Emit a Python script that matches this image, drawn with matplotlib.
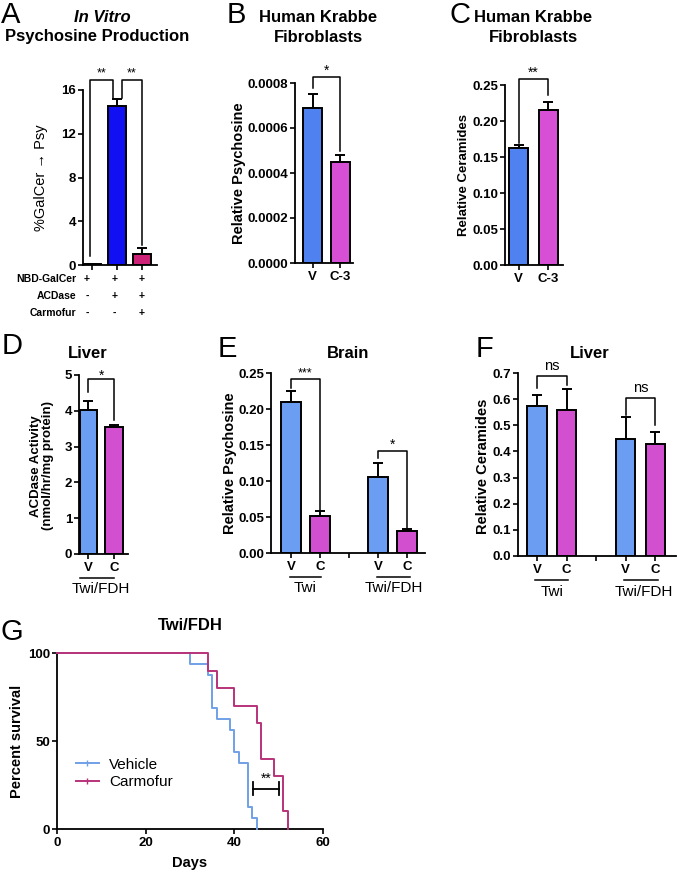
import matplotlib
matplotlib.use("Agg")
import matplotlib.pyplot as plt
import matplotlib.transforms as mtransforms
from matplotlib.lines import Line2D
import numpy as np

plt.rcParams['font.family'] = ['Liberation Sans', 'DejaVu Sans']

W, H = 677, 874

# ---- data ----
# A: in vitro psychosine production
a_vals = [0.05, 14.5, 1.0]
a_errs = [0.0, 0.7, 0.6]
a_rows = ["NBD-GalCer", "ACDase", "Carmofur"]
a_signs = [["+", "+", "+"], ["-", "+", "+"], ["-", "-", "+"]]

# B: relative psychosine, fibroblasts
b_labels = ["V", "C-3"]
b_vals = [0.00069, 0.00045]
b_errs = [0.00006, 0.00003]

# C: relative ceramides, fibroblasts
c_labels = ["V", "C-3"]
c_vals = [0.163, 0.215]
c_errs = [0.004, 0.012]

# D: liver ACDase activity
d_labels = ["V", "C"]
d_vals = [4.02, 3.55]
d_errs = [0.25, 0.06]

# E: brain relative psychosine (Twi, Twi/FDH)
e_labels = ["V", "C", "", "V", "C"]
e_vals = [0.210, 0.052, 0.105, 0.031]
e_errs = [0.015, 0.007, 0.020, 0.002]

# F: liver relative ceramides
f_vals = [0.572, 0.558, 0.448, 0.430]
f_errs = [0.045, 0.080, 0.085, 0.045]

# G: survival, Twi/FDH
veh_days = [30, 34, 35, 36, 39, 40, 41, 43, 44, 45]
veh_deaths = [1, 1, 3, 1, 1, 2, 1, 4, 1, 1]
car_days = [34, 36, 40, 45, 46, 49, 51, 52]
car_deaths = [1, 1, 1, 1, 2, 1, 2, 1]

BLUE_A = '#1010f2'
MAG_A = '#cc2278'
BLUE_B = '#4f82f0'
MAG_B = '#d64fd4'
BLUE_L = '#6b9ef2'
MAG_L = '#d24fd0'
VEH_C = '#70a0e6'
CAR_C = '#b8327a'

fig = plt.figure(figsize=(W / 100, H / 100), dpi=100)


def rect(l, t, r, b):
    return [l / W, 1 - b / H, (r - l) / W, (b - t) / H]


def ftext(x, y, s, **kw):
    kw.setdefault('ha', 'center')
    kw.setdefault('va', 'center')
    fig.text(x / W, 1 - y / H, s, **kw)


def style(ax):
    for s in ['top', 'right']:
        ax.spines[s].set_visible(False)
    for s in ['left', 'bottom']:
        ax.spines[s].set_linewidth(1.3)
    ax.tick_params(width=1.2, length=3.5, labelsize=9.5)
    ax.tick_params(axis='y', pad=1.5)
    ax.tick_params(axis='x', pad=2.5)
    for lab in ax.get_yticklabels() + ax.get_xticklabels():
        lab.set_fontweight('bold')


def bars(ax, x, vals, errs, colors, width):
    ax.bar(x, vals, width, color=colors, edgecolor='black', linewidth=1.4, zorder=2)
    ax.errorbar(x, vals, yerr=[np.zeros(len(vals)), errs], fmt='none', ecolor='black',
                elinewidth=1.4, capsize=3.5, capthick=1.4, zorder=1)


def bracket(ax, x1, x2, y1, y2, top, txt, ty, size=10):
    ax.plot([x1, x1, x2, x2], [y1, top, top, y2], color='black', lw=1.1, clip_on=False)
    ax.text((x1 + x2) / 2, ty, txt, ha='center', va='center', fontsize=size)


def group_line(ax, x1, x2, xt, txt):
    tr = mtransforms.blended_transform_factory(ax.transData, ax.transAxes)
    ax.plot([x1, x2], [-0.133, -0.133], color='black', lw=1.1, transform=tr, clip_on=False)
    ax.text(xt, -0.195, txt, transform=tr, ha='center', va='center', fontsize=11)


# ---- A ----
ax = fig.add_axes(rect(83, 90, 157, 265))
xa = np.arange(3)
bars(ax, xa, a_vals, a_errs, ['#dddddd', BLUE_A, MAG_A], 0.72)
ax.set_xlim(-0.37, 2.6)
ax.set_ylim(0, 16)
ax.set_yticks([0, 4, 8, 12, 16])
ax.set_xticks(xa)
ax.tick_params(axis='x', labelbottom=False)
style(ax)
bracket(ax, -0.1, 0.82, 0.8, 15.3, 16.9, "**", 17.5, 9)
bracket(ax, 1.2, 2.0, 15.3, 1.8, 16.9, "**", 17.5, 9)
for i, row in enumerate(a_rows):
    y = 279 + 17 * i
    ftext(76, y, row, ha='right', fontsize=7.5, fontweight='bold')
    for j, s in enumerate(a_signs[i]):
        ftext(87 + 27.5 * j, y, s, fontsize=7.5, fontweight='bold')
ftext(41, 178, "%GalCer \u2192 Psy", rotation=90, fontsize=10.5)
ftext(102, 17, "In Vitro", fontsize=12, fontweight='bold', style='italic')
ftext(97, 36, "Psychosine Production", fontsize=12, fontweight='bold')
ftext(11, 15, "A", fontsize=21)

# ---- B ----
ax = fig.add_axes(rect(295, 83, 353, 263))
xb = np.arange(2)
bars(ax, xb, b_vals, b_errs, [BLUE_B, MAG_B], 0.69)
ax.set_xlim(-0.64, 1.47)
ax.set_ylim(0, 0.0008)
ax.set_yticks([0, 0.0002, 0.0004, 0.0006, 0.0008])
ax.set_yticklabels(['0.0000', '0.0002', '0.0004', '0.0006', '0.0008'])
ax.set_xticks(xb)
ax.set_xticklabels(b_labels, fontsize=11)
style(ax)
bracket(ax, 0, 1, 0.00078, 0.0005, 0.000827, "*", 0.000855)
ftext(239, 173, "Relative Psychosine", rotation=90, fontsize=10.5, fontweight='bold')
ftext(318, 17, "Human Krabbe", fontsize=12, fontweight='bold')
ftext(318, 38, "Fibroblasts", fontsize=12, fontweight='bold')
ftext(236, 15, "B", fontsize=21)

# ---- C ----
ax = fig.add_axes(rect(505, 85, 563, 265))
bars(ax, xb, c_vals, c_errs, [BLUE_B, MAG_B], 0.65)
ax.set_xlim(-0.46, 1.5)
ax.set_ylim(0, 0.25)
ax.set_yticks(np.arange(6) * 0.05)
ax.set_yticklabels(['0.00', '0.05', '0.10', '0.15', '0.20', '0.25'])
ax.set_xticks(xb)
ax.set_xticklabels(c_labels, fontsize=11)
style(ax)
bracket(ax, 0, 1, 0.169, 0.236, 0.258, "**", 0.267)
ftext(464, 175, "Relative Ceramides", rotation=90, fontsize=9.5, fontweight='bold')
ftext(533, 17, "Human Krabbe", fontsize=12, fontweight='bold')
ftext(533, 38, "Fibroblasts", fontsize=12, fontweight='bold')
ftext(460, 15, "C", fontsize=21)

# ---- D ----
ax = fig.add_axes(rect(79, 375, 128, 554))
bars(ax, xb, d_vals, d_errs, [BLUE_L, MAG_L], 0.69)
ax.set_xlim(-0.37, 1.55)
ax.set_ylim(0, 5)
ax.set_yticks(range(6))
ax.set_xticks(xb)
ax.set_xticklabels(d_labels, fontsize=11)
style(ax)
bracket(ax, 0, 1, 4.53, 3.74, 4.88, "*", 4.98)
group_line(ax, -0.35, 1.0, 0.5, "Twi/FDH")
ftext(42, 466, "ACDase Activity\n(nmol/hr/mg protein)", rotation=90, fontsize=9.5,
      fontweight='bold', linespacing=1.1)
ftext(88, 353, "Liver", fontsize=12, fontweight='bold')
ftext(12, 346, "D", fontsize=21)

# ---- E ----
ax = fig.add_axes(rect(271, 373, 425, 553))
xe = np.array([0, 1, 3, 4])
bars(ax, xe, e_vals, e_errs, [BLUE_L, MAG_L, BLUE_L, MAG_L], 0.69)
ax.set_xlim(-0.69, 4.62)
ax.set_ylim(0, 0.25)
ax.set_yticks(np.arange(6) * 0.05)
ax.set_yticklabels(['0.00', '0.05', '0.10', '0.15', '0.20', '0.25'])
ax.set_xticks(range(5))
ax.set_xticklabels(e_labels, fontsize=11)
style(ax)
bracket(ax, 0, 1, 0.229, 0.06, 0.241, "***", 0.250, 9)
bracket(ax, 3, 4, 0.132, 0.035, 0.141, "*", 0.150)
group_line(ax, -0.05, 1.05, 0.5, "Twi")
group_line(ax, 2.95, 4.1, 3.55, "Twi/FDH")
ftext(230, 463, "Relative Psychosine", rotation=90, fontsize=10.5, fontweight='bold')
ftext(348, 353, "Brain", fontsize=12, fontweight='bold')
ftext(227, 349, "E", fontsize=21)

# ---- F ----
ax = fig.add_axes(rect(518, 373, 676, 556))
bars(ax, xe, f_vals, f_errs, [BLUE_L, MAG_L, BLUE_L, MAG_L], 0.66)
ax.set_xlim(-0.64, 4.7)
ax.set_ylim(0, 0.7)
ax.set_yticks(np.arange(8) * 0.1)
ax.set_yticklabels(['%.1f' % v for v in np.arange(8) * 0.1])
ax.set_xticks(range(5))
ax.set_xticklabels(e_labels, fontsize=11)
style(ax)
bracket(ax, 0, 1, 0.643, 0.656, 0.687, "ns", 0.727, 10.5)
bracket(ax, 3, 4, 0.54, 0.502, 0.604, "ns", 0.644, 10.5)
group_line(ax, -0.05, 1.05, 0.5, "Twi")
group_line(ax, 2.95, 4.1, 3.6, "Twi/FDH")
ftext(483, 466, "Relative Ceramides", rotation=90, fontsize=10.5, fontweight='bold')
ftext(590, 353, "Liver", fontsize=12, fontweight='bold')
ftext(484, 349, "F", fontsize=21)

# ---- G ----
ax = fig.add_axes(rect(57, 653, 323, 829))


def km(days, deaths):
    n = sum(deaths)
    surv = 100.0 * (n - np.cumsum(deaths)) / n
    t = np.concatenate([[0], days])
    s = np.concatenate([[100.0], surv])
    return t, s


t, s = km(veh_days, veh_deaths)
ax.step(t, s, where='post', color=VEH_C, lw=1.4, clip_on=False, zorder=3)
t, s = km(car_days, car_deaths)
ax.step(t, s, where='post', color=CAR_C, lw=1.4, clip_on=False, zorder=3)
ax.set_xlim(0, 60)
ax.set_ylim(0, 100)
ax.set_xticks([0, 20, 40, 60])
ax.set_yticks([0, 50, 100])
style(ax)
ax.plot([44.3, 50], [23, 23], color='black', lw=1.3)
ax.plot([44.3, 44.3], [19.5, 26.5], color='black', lw=1.3)
ax.plot([50, 50], [19.5, 26.5], color='black', lw=1.3)
ax.text(47.2, 28.5, "**", ha='center', va='center', fontsize=10)
handles = [Line2D([], [], color=VEH_C, lw=1.4, marker='|', markersize=5),
           Line2D([], [], color=CAR_C, lw=1.4, marker='|', markersize=5)]
ax.legend(handles, ["Vehicle", "Carmofur"], loc='center left', bbox_to_anchor=(0.07, 0.315),
          frameon=False, fontsize=11, handlelength=1.5, handletextpad=0.7,
          labelspacing=0.25, borderpad=0, borderaxespad=0)
ftext(17, 741, "Percent survival", rotation=90, fontsize=10.5, fontweight='bold')
ftext(190, 863, "Days", fontsize=10.5, fontweight='bold')
ftext(190, 625, "Twi/FDH", fontsize=12, fontweight='bold')
ftext(12, 632, "G", fontsize=21)

fig.savefig("out.png", dpi=100)
